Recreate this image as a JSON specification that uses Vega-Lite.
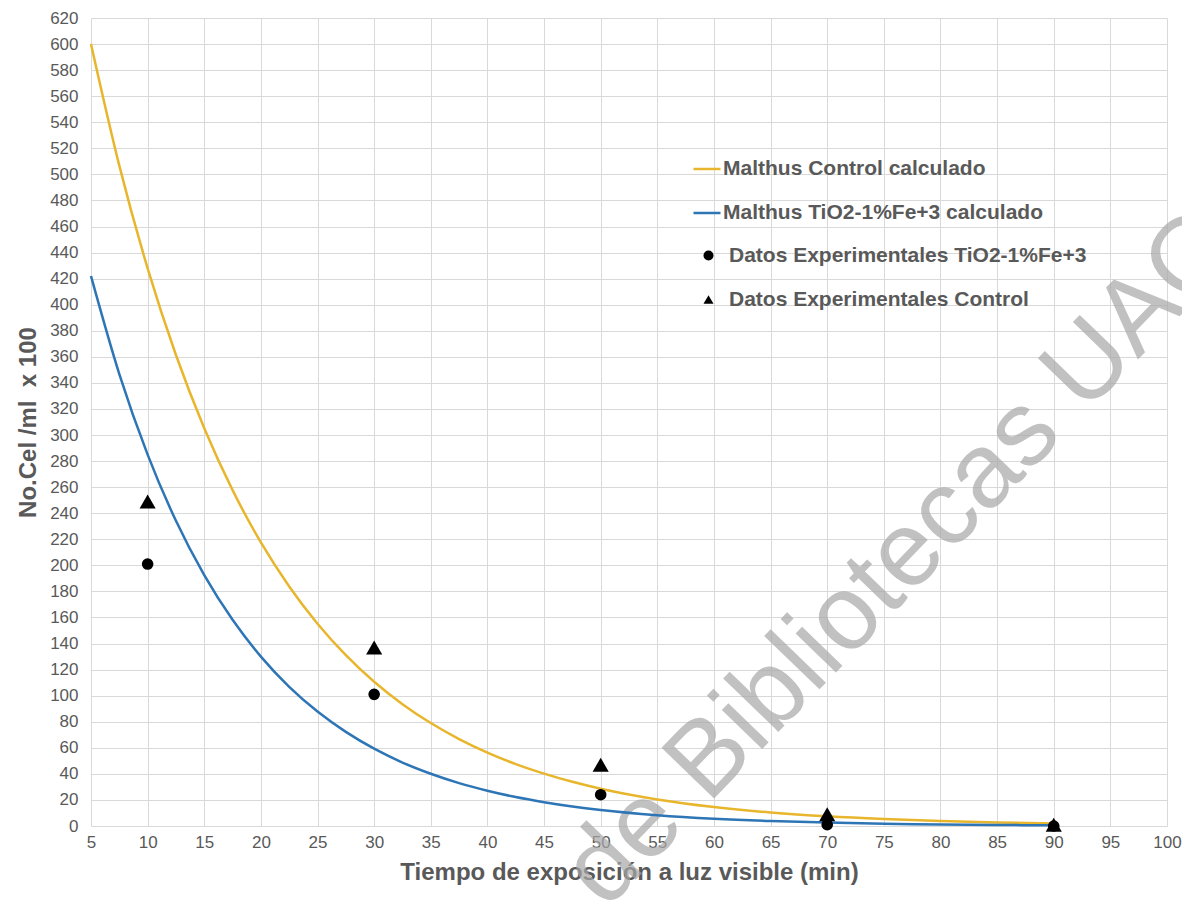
{
  "$schema": "https://vega.github.io/schema/vega-lite/v6.json",
  "width": 1076,
  "height": 808,
  "autosize": {"type": "none"},
  "padding": {"left": 91, "top": 18, "right": 15, "bottom": 85},
  "background": "white",
  "config": {
    "font": "Liberation Sans",
    "view": {"stroke": null},
    "axis": {
      "grid": true,
      "gridColor": "#d9d9d9",
      "gridWidth": 1,
      "domain": false,
      "ticks": false,
      "labelOverlap": false,
      "labelFlush": false,
      "labelFont": "Liberation Sans",
      "labelFontSize": 17,
      "labelColor": "#595959",
      "titleFont": "Liberation Sans",
      "titleFontSize": 24,
      "titleFontWeight": "bold",
      "titleColor": "#595959"
    },
    "legend": {
      "labelFont": "Liberation Sans"
    }
  },
  "encoding": {
    "x": {
      "field": "t",
      "type": "quantitative",
      "scale": {"domain": [5, 100], "nice": false, "zero": false},
      "axis": {
        "title": "Tiempo de exposición a luz visible (min)",
        "values": [5, 10, 15, 20, 25, 30, 35, 40, 45, 50, 55, 60, 65, 70, 75, 80, 85, 90, 95, 100],
        "labelOverlap": false,
        "labelFlush": false,
        "labelPadding": 8,
        "titlePadding": 10
      }
    },
    "y": {
      "field": "n",
      "type": "quantitative",
      "scale": {"domain": [0, 620], "nice": false},
      "axis": {
        "title": "No.Cel /ml\u00a0\u00a0x 100",
        "values": [0, 20, 40, 60, 80, 100, 120, 140, 160, 180, 200, 220, 240, 260, 280, 300, 320, 340, 360, 380, 400, 420, 440, 460, 480, 500, 520, 540, 560, 580, 600, 620],
        "tickCount": 32,
        "labelOverlap": false,
        "labelFlush": false,
        "labelSeparation": 0,
        "labelPadding": 13,
        "titlePadding": 9
      }
    }
  },
  "layer": [
    {
      "data": {"values": [{"t": 76.6, "n": 205.7, "marca": "de Bibliotecas UAQ"}]},
      "mark": {
        "type": "text",
        "fontSize": 106,
        "angle": -46,
        "align": "center",
        "baseline": "middle",
        "fill": "#a8a8a8",
        "opacity": 0.7,
        "font": "Liberation Sans"
      },
      "encoding": {
        "text": {"field": "marca"}
      }
    },
    {
      "data": {
        "values": [
          {"t": 5, "n": 600, "curva": "Malthus Control calculado"},
          {"t": 7.5, "n": 506.7, "curva": "Malthus Control calculado"},
          {"t": 10, "n": 427.9, "curva": "Malthus Control calculado"},
          {"t": 12.5, "n": 361.4, "curva": "Malthus Control calculado"},
          {"t": 15, "n": 305.2, "curva": "Malthus Control calculado"},
          {"t": 17.5, "n": 257.7, "curva": "Malthus Control calculado"},
          {"t": 20, "n": 217.6, "curva": "Malthus Control calculado"},
          {"t": 22.5, "n": 183.8, "curva": "Malthus Control calculado"},
          {"t": 25, "n": 155.2, "curva": "Malthus Control calculado"},
          {"t": 27.5, "n": 131.1, "curva": "Malthus Control calculado"},
          {"t": 30, "n": 110.7, "curva": "Malthus Control calculado"},
          {"t": 32.5, "n": 93.5, "curva": "Malthus Control calculado"},
          {"t": 35, "n": 79.0, "curva": "Malthus Control calculado"},
          {"t": 37.5, "n": 66.7, "curva": "Malthus Control calculado"},
          {"t": 40, "n": 56.3, "curva": "Malthus Control calculado"},
          {"t": 42.5, "n": 47.5, "curva": "Malthus Control calculado"},
          {"t": 45, "n": 40.2, "curva": "Malthus Control calculado"},
          {"t": 47.5, "n": 33.9, "curva": "Malthus Control calculado"},
          {"t": 50, "n": 28.6, "curva": "Malthus Control calculado"},
          {"t": 55, "n": 20.4, "curva": "Malthus Control calculado"},
          {"t": 60, "n": 14.6, "curva": "Malthus Control calculado"},
          {"t": 65, "n": 10.4, "curva": "Malthus Control calculado"},
          {"t": 70, "n": 7.4, "curva": "Malthus Control calculado"},
          {"t": 75, "n": 5.3, "curva": "Malthus Control calculado"},
          {"t": 80, "n": 3.8, "curva": "Malthus Control calculado"},
          {"t": 85, "n": 2.7, "curva": "Malthus Control calculado"},
          {"t": 90, "n": 1.9, "curva": "Malthus Control calculado"},
          {"t": 5, "n": 422, "curva": "Malthus TiO2-1%Fe+3 calculado"},
          {"t": 7.5, "n": 346.8, "curva": "Malthus TiO2-1%Fe+3 calculado"},
          {"t": 10, "n": 285.0, "curva": "Malthus TiO2-1%Fe+3 calculado"},
          {"t": 12.5, "n": 234.2, "curva": "Malthus TiO2-1%Fe+3 calculado"},
          {"t": 15, "n": 192.5, "curva": "Malthus TiO2-1%Fe+3 calculado"},
          {"t": 17.5, "n": 158.2, "curva": "Malthus TiO2-1%Fe+3 calculado"},
          {"t": 20, "n": 130.0, "curva": "Malthus TiO2-1%Fe+3 calculado"},
          {"t": 22.5, "n": 106.8, "curva": "Malthus TiO2-1%Fe+3 calculado"},
          {"t": 25, "n": 87.8, "curva": "Malthus TiO2-1%Fe+3 calculado"},
          {"t": 27.5, "n": 72.2, "curva": "Malthus TiO2-1%Fe+3 calculado"},
          {"t": 30, "n": 59.3, "curva": "Malthus TiO2-1%Fe+3 calculado"},
          {"t": 32.5, "n": 48.7, "curva": "Malthus TiO2-1%Fe+3 calculado"},
          {"t": 35, "n": 40.1, "curva": "Malthus TiO2-1%Fe+3 calculado"},
          {"t": 37.5, "n": 32.9, "curva": "Malthus TiO2-1%Fe+3 calculado"},
          {"t": 40, "n": 27.1, "curva": "Malthus TiO2-1%Fe+3 calculado"},
          {"t": 42.5, "n": 22.2, "curva": "Malthus TiO2-1%Fe+3 calculado"},
          {"t": 45, "n": 18.3, "curva": "Malthus TiO2-1%Fe+3 calculado"},
          {"t": 47.5, "n": 15.0, "curva": "Malthus TiO2-1%Fe+3 calculado"},
          {"t": 50, "n": 12.3, "curva": "Malthus TiO2-1%Fe+3 calculado"},
          {"t": 55, "n": 8.3, "curva": "Malthus TiO2-1%Fe+3 calculado"},
          {"t": 60, "n": 5.6, "curva": "Malthus TiO2-1%Fe+3 calculado"},
          {"t": 65, "n": 3.8, "curva": "Malthus TiO2-1%Fe+3 calculado"},
          {"t": 70, "n": 2.6, "curva": "Malthus TiO2-1%Fe+3 calculado"},
          {"t": 75, "n": 1.7, "curva": "Malthus TiO2-1%Fe+3 calculado"},
          {"t": 80, "n": 1.2, "curva": "Malthus TiO2-1%Fe+3 calculado"},
          {"t": 85, "n": 0.8, "curva": "Malthus TiO2-1%Fe+3 calculado"},
          {"t": 90, "n": 0.5, "curva": "Malthus TiO2-1%Fe+3 calculado"}
        ]
      },
      "mark": {"type": "line", "interpolate": "monotone", "strokeWidth": 2.5},
      "encoding": {
        "color": {
          "field": "curva",
          "type": "nominal",
          "scale": {
            "domain": ["Malthus Control calculado", "Malthus TiO2-1%Fe+3 calculado"],
            "range": ["#E8B62C", "#2E75B6"]
          },
          "legend": {
            "orient": "none",
            "legendX": 601,
            "legendY": 136,
            "title": null,
            "padding": 0,
            "symbolType": "stroke",
            "symbolSize": 729,
            "symbolStrokeWidth": 2.5,
            "labelFontSize": 21,
            "labelFontWeight": "bold",
            "labelColor": "#595959",
            "labelOffset": 1,
            "rowPadding": 19,
            "labelLimit": 600
          }
        }
      }
    },
    {
      "data": {
        "values": [
          {"t": 10, "n": 201, "datos": "Datos Experimentales TiO2-1%Fe+3"},
          {"t": 30, "n": 101, "datos": "Datos Experimentales TiO2-1%Fe+3"},
          {"t": 50, "n": 24, "datos": "Datos Experimentales TiO2-1%Fe+3"},
          {"t": 70, "n": 1, "datos": "Datos Experimentales TiO2-1%Fe+3"},
          {"t": 90, "n": 0, "datos": "Datos Experimentales TiO2-1%Fe+3"},
          {"t": 10, "n": 249, "datos": "Datos Experimentales Control"},
          {"t": 30, "n": 137, "datos": "Datos Experimentales Control"},
          {"t": 50, "n": 47, "datos": "Datos Experimentales Control"},
          {"t": 70, "n": 9, "datos": "Datos Experimentales Control"},
          {"t": 90, "n": 1, "datos": "Datos Experimentales Control"}
        ]
      },
      "mark": {"type": "point", "filled": true, "color": "black", "opacity": 1},
      "encoding": {
        "size": {
          "condition": {"test": "datum.datos === 'Datos Experimentales Control'", "value": 260},
          "value": 135
        },
        "shape": {
          "field": "datos",
          "type": "nominal",
          "scale": {
            "domain": ["Datos Experimentales TiO2-1%Fe+3", "Datos Experimentales Control"],
            "range": ["circle", "triangle-up"]
          },
          "legend": {
            "orient": "none",
            "legendX": 607,
            "legendY": 227,
            "title": null,
            "padding": 0,
            "symbolSize": 100,
            "symbolFillColor": "black",
            "symbolStrokeColor": "black",
            "symbolOpacity": 1,
            "labelFontSize": 21,
            "labelFontWeight": "bold",
            "labelColor": "#595959",
            "labelOffset": 10,
            "rowPadding": 22,
            "labelLimit": 600
          }
        }
      }
    }
  ]
}
